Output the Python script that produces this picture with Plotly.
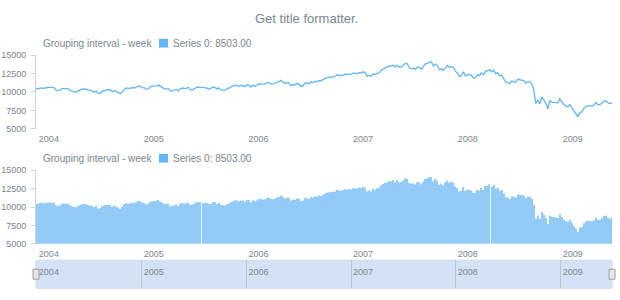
import pandas as pd
import plotly.graph_objects as go

# ---------------- data (weekly values) ----------------
values_2004 = [10409, 10458, 10600, 10568, 10488, 10593, 10628, 10620, 10584,
               10596, 10240, 10186, 10213, 10470, 10442, 10452, 10472, 10226,
               10118, 10012, 9967, 10188, 10243, 10410, 10417, 10372, 10283,
               10213, 10140, 9962, 10140, 9815, 9825, 10110, 10195, 10260,
               10314, 10284, 10047, 10192, 10055, 9933, 9758, 10027, 10387,
               10540, 10456, 10522, 10592, 10543, 10661, 10828, 10783]
values_2005 = [10603, 10558, 10393, 10427, 10716, 10796, 10785, 10841, 10941,
               10774, 10629, 10442, 10404, 10461, 10088, 10158, 10193, 10345,
               10140, 10471, 10542, 10460, 10513, 10623, 10297, 10303, 10449,
               10641, 10651, 10641, 10558, 10600, 10559, 10397, 10447, 10679,
               10641, 10420, 10569, 10292, 10287, 10215, 10402, 10531, 10686,
               10766, 10931, 10878, 10779, 10876, 10884, 10718]
values_2006 = [10959, 10960, 10668, 10908, 10794, 10920, 11115, 11062, 11022,
               11076, 11280, 11280, 11109, 11073, 11137, 11347, 11367, 11578,
               11380, 11144, 11278, 11248, 10892, 11015, 10990, 11150, 11091,
               10739, 10868, 11219, 11240, 11088, 11381, 11284, 11464, 11393,
               11560, 11508, 11679, 11850, 11961, 12002, 12090, 12031, 12108,
               12343, 12280, 12194, 12307, 12446, 12344, 12463]
values_2007 = [12398, 12556, 12566, 12487, 12653, 12580, 12767, 12647, 12114,
               12276, 12110, 12481, 12354, 12560, 12612, 12961, 13120, 13264,
               13326, 13556, 13507, 13668, 13424, 13639, 13361, 13409, 13611,
               13907, 13851, 13265, 13182, 13239, 13079, 13379, 13358, 13113,
               13442, 13820, 13896, 14066, 14093, 13522, 13807, 13595, 13042,
               13176, 12980, 13372, 13625, 13339, 13450, 13366]
values_2008 = [12800, 12606, 12099, 12207, 12743, 12182, 12348, 12381, 12266,
               11894, 11951, 12361, 12216, 12609, 12325, 12849, 12891, 13058,
               12745, 12986, 12480, 12638, 12210, 12307, 11842, 11347, 11288,
               11100, 11496, 11370, 11326, 11734, 11659, 11628, 11544, 11220,
               11422, 11388, 11143, 10325, 8451, 8852, 8378, 9325, 8943,
               8497, 7700, 8829, 8635, 8629, 8579, 8515]
values_2009 = [9034, 8599, 8281, 8077, 8001, 8280, 7850, 7366, 7063, 6627,
               7224, 7279, 7776, 8018, 8083, 8131, 8076, 8212, 8575, 8268,
               8277, 8500, 8764, 8799, 8539, 8438, 8503]
series_values = (values_2004 + values_2005 + values_2006 + values_2007
                 + values_2008 + values_2009)
first_week = "2003-12-29"

year_ticks = ["2004-01-01", "2005-01-01", "2006-01-01", "2007-01-01",
              "2008-01-01", "2009-01-01"]
year_labels = ["2004", "2005", "2006", "2007", "2008", "2009"]
y_ticks = [5000, 7500, 10000, 12500, 15000]
y_range = [5000, 15000]

title_text = "Get title formatter."
grouping_text = "Grouping interval - week"
series_name = "Series 0"

# ---------------- styling ----------------
W, H = 620, 300
L, R = 36, 8
FONT = "Liberation Sans, Arial, sans-serif"
TXT = "#7c868e"
AXIS = "#cfd3d6"
LINE_C = "#64b5f6"
BAR_C = "#93cbf8"


def px_x(px):
    return (px - L) / (W - L - R)


def px_y(py):
    return 1 - py / H


dates = pd.date_range(first_week, periods=len(series_values), freq="W-MON")
x_range = [dates[0], dates[-1]]

fig = go.Figure()
fig.add_trace(go.Scatter(x=dates, y=series_values, mode="lines",
                         line=dict(color=LINE_C, width=1.3),
                         xaxis="x", yaxis="y", hoverinfo="skip"))
fig.add_trace(go.Bar(x=dates, y=series_values, marker=dict(color=BAR_C, line=dict(width=0)),
                     xaxis="x2", yaxis="y2", hoverinfo="skip"))
# empty trace so the scroller subplot is drawn
fig.add_trace(go.Scatter(x=[dates[0], dates[-1]], y=[None, None], mode="lines",
                         xaxis="x3", yaxis="y3", hoverinfo="skip"))

xcommon = dict(range=x_range, tickvals=year_ticks, ticktext=year_labels,
               showgrid=False, zeroline=False, showline=False, ticks="",
               ticklabelposition="outside right", ticklabelshift=2, ticklabelstandoff=3,
               tickfont=dict(family=FONT, size=9, color=TXT), fixedrange=True)
ycommon = dict(range=y_range, tickvals=y_ticks, tickformat="d", showgrid=False,
               zeroline=False, showline=True, linecolor=AXIS, linewidth=1,
               ticks="outside", ticklen=4, tickcolor=AXIS, ticklabelstandoff=3,
               tickfont=dict(family=FONT, size=9, color=TXT), fixedrange=True)

fig.update_layout(
    width=W, height=H,
    margin=dict(l=L, r=R, t=0, b=0),
    paper_bgcolor="white", plot_bgcolor="white",
    showlegend=False, bargap=0.42,
    xaxis=dict(domain=[0, 1], anchor="y", **xcommon),
    yaxis=dict(domain=[px_y(128), px_y(52)], anchor="x", **ycommon),
    xaxis2=dict(domain=[0, 1], anchor="y2", **xcommon),
    yaxis2=dict(domain=[px_y(247), px_y(171)], anchor="x2", **ycommon),
    xaxis3=dict(domain=[0, 1], anchor="y3", range=x_range, tickvals=year_ticks,
                ticktext=year_labels, showgrid=True, gridcolor="#bcc4ce", gridwidth=1,
                zeroline=False, showline=False, ticks="", side="top",
                ticklabelposition="inside right", ticklabelshift=2, ticklabelstandoff=3,
                tickfont=dict(family=FONT, size=9, color=TXT), fixedrange=True),
    yaxis3=dict(domain=[px_y(293), px_y(264)], anchor="x3", range=[0, 1],
                showgrid=False, zeroline=False, showticklabels=False, ticks="",
                showline=False, fixedrange=True),
)

# scroller background and handles
fig.add_shape(type="rect", xref="x3 domain", yref="y3 domain", x0=0, x1=1, y0=0, y1=1,
              fillcolor="#d3e3f5", line=dict(color="#d0dbe7", width=1), layer="below")
for xa in (0, 1):
    fig.add_shape(type="rect", xref="x3 domain", yref="y3 domain",
                  xsizemode="pixel", xanchor=xa, x0=-3, x1=3,
                  ysizemode="pixel", yanchor=0.5, y0=-5, y1=5,
                  fillcolor="#e6e6e6", line=dict(color="#9e9e9e", width=1), layer="above")

# title
fig.add_annotation(text=title_text, xref="paper", yref="paper", x=px_x(306), y=px_y(14),
                   showarrow=False, xanchor="center", yanchor="middle",
                   font=dict(family=FONT, size=13, color=TXT))

# legends for the two plots
last_value = series_values[-1]
for cy in (39.5, 158.5):
    fig.add_annotation(text=grouping_text, xref="paper", yref="paper", x=px_x(41), y=px_y(cy),
                       showarrow=False, xanchor="left", yanchor="middle",
                       font=dict(family=FONT, size=10, color=TXT))
    fig.add_shape(type="rect", xref="paper", yref="paper",
                  x0=px_x(159), x1=px_x(168), y0=px_y(cy + 4.5), y1=px_y(cy - 4.5),
                  fillcolor=LINE_C, line=dict(width=0))
    fig.add_annotation(text=f"{series_name}: {last_value:.2f}", xref="paper", yref="paper",
                       x=px_x(170.5), y=px_y(cy), showarrow=False, xanchor="left",
                       yanchor="middle", font=dict(family=FONT, size=10, color=TXT))

fig.write_html("out.html")
